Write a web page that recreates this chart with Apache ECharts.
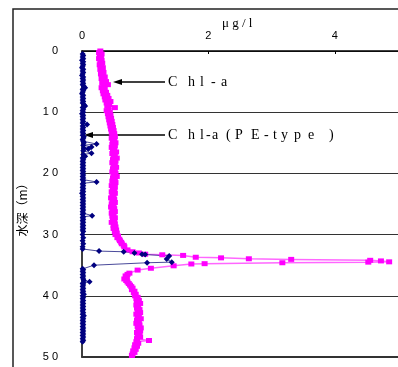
<!DOCTYPE html>
<html><head><meta charset="utf-8">
<script src="https://cdn.jsdelivr.net/npm/echarts@6/dist/echarts.min.js"></script>
<style>html,body{margin:0;padding:0;background:#fff}#c{width:398px;height:367px}</style>
</head><body><div id="c"></div>
<script>
// Chl-a (magenta) profile: depth (m) and value (μg/l)
const chlDepth = [0.00,0.25,0.50,0.75,1.00,1.25,1.50,1.75,2.00,2.25,2.50,2.75,3.00,3.25,3.50,3.75,4.00,4.25,4.50,4.75,5.00,5.25,5.50,5.75,6.00,6.25,6.50,6.75,7.00,7.25,7.50,7.75,8.00,8.25,8.50,8.75,9.00,9.25,9.50,9.75,10.00,10.25,10.50,10.75,11.00,11.25,11.50,11.75,12.00,12.25,12.50,12.75,13.00,13.25,13.50,13.75,14.00,14.25,14.50,14.75,15.00,15.25,15.50,15.75,16.00,16.25,16.50,16.75,17.00,17.25,17.50,17.75,18.00,18.25,18.50,18.75,19.00,19.25,19.50,19.75,20.00,20.25,20.50,20.75,21.00,21.25,21.50,21.75,22.00,22.25,22.50,22.75,23.00,23.25,23.50,23.75,24.00,24.25,24.50,24.75,25.00,25.25,25.50,25.75,26.00,26.25,26.50,26.75,27.00,27.25,27.50,27.75,28.00,28.25,28.50,28.75,29.00,29.25,29.50,29.75,30.00,30.25,30.50,30.75,31.00,31.25,31.50,31.75,32.00,32.5,32.8,33.0,33.2,33.3,33.4,33.7,33.8,33.95,34.05,34.2,34.3,34.45,34.5,34.6,34.75,34.8,35.1,35.5,35.8,36.3,36.5,36.75,37.0,37.25,37.5,37.75,38.0,38.25,38.5,38.75,39.0,39.25,39.5,39.75,40.0,40.25,40.5,40.75,41.0,41.25,41.5,41.75,42.0,42.25,42.5,42.75,43.0,43.25,43.5,43.75,44.0,44.25,44.5,44.75,45.0,45.25,45.5,45.75,46.0,46.25,46.5,46.75,47.0,47.3,47.5,47.75,48.0,48.25,48.5,48.75,49.0,49.25,49.5,49.75];
const chlValue = [0.29,0.27,0.31,0.28,0.30,0.27,0.31,0.29,0.32,0.28,0.30,0.33,0.29,0.31,0.34,0.30,0.33,0.36,0.31,0.34,0.38,0.32,0.41,0.34,0.31,0.36,0.33,0.38,0.34,0.40,0.36,0.42,0.37,0.45,0.39,0.43,0.40,0.52,0.42,0.39,0.44,0.41,0.45,0.42,0.46,0.43,0.47,0.44,0.48,0.45,0.49,0.46,0.50,0.47,0.51,0.48,0.52,0.47,0.51,0.49,0.53,0.48,0.52,0.47,0.51,0.49,0.54,0.48,0.52,0.50,0.55,0.49,0.53,0.48,0.52,0.50,0.54,0.49,0.52,0.48,0.53,0.50,0.55,0.49,0.52,0.48,0.53,0.50,0.47,0.52,0.49,0.51,0.47,0.52,0.48,0.50,0.46,0.51,0.48,0.52,0.47,0.50,0.46,0.51,0.48,0.52,0.47,0.50,0.48,0.52,0.49,0.51,0.47,0.52,0.50,0.53,0.50,0.54,0.52,0.55,0.53,0.57,0.56,0.59,0.60,0.62,0.63,0.66,0.67,0.72,0.80,0.90,1.00,1.27,1.60,1.80,2.20,2.64,3.31,4.56,4.73,4.86,4.53,3.17,1.94,1.73,1.45,1.09,0.88,0.75,0.72,0.69,0.71,0.67,0.70,0.72,0.74,0.76,0.78,0.80,0.79,0.83,0.82,0.85,0.84,0.88,0.86,0.90,0.87,0.92,0.86,0.89,0.87,0.91,0.88,0.92,0.86,0.90,0.88,0.93,0.87,0.90,0.86,0.91,0.88,0.93,0.89,0.92,0.87,0.91,0.88,0.92,0.87,1.06,0.86,0.89,0.84,0.87,0.83,0.85,0.81,0.83,0.80,0.79];

// Chl-a (PE-type) (navy) profile
const peDepth = [0.5,0.75,1.0,1.25,1.5,1.75,2.0,2.25,2.5,2.75,3.0,3.25,3.5,3.75,4.0,4.25,4.5,4.75,5.0,5.25,5.5,5.75,6.0,6.25,6.5,6.75,7.0,7.25,7.5,7.75,8.0,8.25,8.5,8.75,9.0,9.25,9.5,9.75,10.0,10.25,10.5,10.75,11.0,11.25,11.5,11.75,12.0,12.25,12.5,12.75,13.0,13.25,13.5,13.75,14.0,14.25,14.5,14.75,15.0,15.2,15.4,15.7,15.9,16.0,16.3,16.7,16.9,17.2,17.5,17.75,18.0,18.25,18.5,18.75,19.0,19.25,19.5,19.75,20.0,20.25,20.5,20.75,21.0,21.2,21.4,21.6,21.75,22.0,22.25,22.5,22.75,23.0,23.25,23.5,23.75,24.0,24.25,24.5,24.75,25.0,25.25,25.5,25.75,26.0,26.25,26.5,26.7,26.9,27.1,27.25,27.5,27.75,28.0,28.25,28.5,28.75,29.0,29.25,29.5,30.0,30.5,31.0,31.5,32.0,32.35,32.7,32.8,33.0,33.2,33.25,33.5,34.0,34.5,34.6,35.0,35.6,35.75,36.0,36.25,36.5,36.75,37.0,37.25,37.5,37.7,37.9,38.0,38.25,38.5,38.75,39.0,39.25,39.5,39.75,40.0,40.25,40.5,40.75,41.0,41.25,41.5,41.75,42.0,42.25,42.5,42.75,43.0,43.25,43.5,43.75,44.0,44.25,44.5,44.75,45.0,45.25,45.5,45.75,46.0,46.25,46.5,46.75,47.0,47.25,47.5];
const peValue = [0.01,0.02,0.01,0.02,0.00,0.02,0.01,0.02,0.01,0.00,0.02,0.01,0.02,0.01,0.00,0.02,0.01,0.02,0.01,0.02,0.01,0.03,0.05,0.01,0.02,0.01,0.00,0.02,0.01,0.02,0.01,0.02,0.01,0.03,0.05,0.01,0.02,0.01,0.02,0.00,0.02,0.01,0.02,0.01,0.02,0.01,0.08,0.01,0.02,0.01,0.02,0.01,0.02,0.01,0.03,0.02,0.01,0.02,0.03,0.23,0.02,0.15,0.03,0.10,0.02,0.15,0.02,0.05,0.01,0.02,0.01,0.02,0.01,0.02,0.01,0.02,0.01,0.02,0.01,0.02,0.01,0.02,0.01,0.02,0.23,0.02,0.01,0.02,0.01,0.02,0.01,0.02,0.00,0.02,0.01,0.02,0.01,0.02,0.01,0.02,0.01,0.02,0.01,0.02,0.01,0.02,0.01,0.16,0.02,0.01,0.02,0.01,0.02,0.01,0.02,0.01,0.02,0.01,0.02,0.01,0.02,0.01,0.02,0.01,0.01,0.27,0.66,0.83,0.95,1.00,1.38,1.34,1.42,1.03,0.19,0.01,0.02,0.01,0.02,0.01,0.02,0.01,0.02,0.03,0.12,0.02,0.01,0.02,0.01,0.02,0.01,0.02,0.01,0.03,0.01,0.02,0.01,0.02,0.01,0.02,0.01,0.02,0.01,0.02,0.01,0.02,0.01,0.03,0.01,0.02,0.01,0.02,0.01,0.02,0.01,0.02,0.01,0.02,0.01,0.02,0.01,0.02,0.01,0.02,0.01];

const xTicks = [0, 2, 4];
const depthTicks = [0, 10, 20, 30, 40, 50];

const chart = echarts.init(document.getElementById('c'), null, {renderer: 'canvas'});
const chlData = chlDepth.map((d, i) => [chlValue[i], d]);
const peData = peDepth.map((d, i) => [peValue[i], d]);
const spaced = v => String(v).split('').join(' ');

// annotation text, one glyph per element to mimic the wide character spacing
const serif = '14px "Liberation Serif", serif';
function glyphs(chars, xs, y) {
  return chars.map((ch, i) => ({type: 'text', x: xs[i], y: y, silent: true,
    style: {text: ch, font: serif, fill: '#000', verticalAlign: 'middle'}}));
}
const lab1 = glyphs(['C','h','l','-','a'], [168,188,200,211,221], 82);
const lab2 = glyphs(['C','h','l','-','a','(','P','E','-','t','y','p','e',')'],
                    [168,188,200,206,212,226,235,251,264,273,281,294,308,329], 135);

chart.setOption({
  animation: false,
  grid: {left: 82, top: 51, width: 320, height: 306, containLabel: false},
  xAxis: [{
    type: 'value', position: 'top', min: 0, max: 5, interval: 2,
    axisLine: {show: true, lineStyle: {color: '#000', width: 1.5}},
    axisTick: {show: true, inside: true, length: 3, lineStyle: {color: '#000'}},
    axisLabel: {color: '#000', fontFamily: 'Liberation Sans, Arial', fontSize: 11, margin: 10, showMaxLabel: false,
      formatter: v => xTicks.indexOf(v) >= 0 ? String(v) : ''},
    splitLine: {show: false}
  }, {
    type: 'value', position: 'bottom', min: 0, max: 5,
    axisLine: {show: true, onZero: false, lineStyle: {color: '#333', width: 2}},
    axisTick: {show: false}, axisLabel: {show: false}, splitLine: {show: false}
  }],
  yAxis: {
    type: 'value', inverse: true, min: 0, max: 50, interval: 10,
    axisLine: {show: true, lineStyle: {color: '#000', width: 1.5}},
    axisTick: {show: false},
    axisLabel: {color: '#000', fontFamily: 'Liberation Sans, Arial', fontSize: 11, margin: 24,
      formatter: v => depthTicks.indexOf(v) >= 0 ? spaced(v) : ''},
    splitLine: {show: true, lineStyle: {color: '#333', width: 1}}
  },
  series: [{
    name: 'Chl-a', type: 'line', xAxisIndex: 0, data: chlData,
    symbol: 'rect', symbolSize: [6, 5], showAllSymbol: true,
    itemStyle: {color: '#ff00ff'},
    lineStyle: {color: '#ff00ff', width: 1.5, opacity: 0.6}
  }, {
    name: 'Chl-a(PE-type)', type: 'line', xAxisIndex: 0, data: peData,
    symbol: 'diamond', symbolSize: 6, showAllSymbol: true,
    itemStyle: {color: '#000080'},
    lineStyle: {color: '#2a2a88', width: 1, opacity: 0.85}
  }],
  graphic: [
    {type: 'rect', shape: {x: 13, y: 9, width: 420, height: 420}, style: {fill: 'none', stroke: '#222', lineWidth: 1.5}, silent: true},
    {type: 'text', x: 222, y: 17, style: {text: 'μ g / l', font: '13px "Liberation Serif", serif', fill: '#000'}},
    {type: 'text', x: 22, y: 207, rotation: Math.PI / 2, style: {text: '水深（m）', font: '12px "Noto Sans CJK JP", sans-serif', fill: '#000', align: 'center', verticalAlign: 'middle'}},
    {type: 'line', shape: {x1: 165, y1: 82, x2: 118, y2: 82}, style: {stroke: '#000', lineWidth: 1.5}},
    {type: 'polygon', shape: {points: [[113, 82], [122, 79], [122, 85]]}, style: {fill: '#000'}},
    {type: 'line', shape: {x1: 165, y1: 135, x2: 89, y2: 135}, style: {stroke: '#000', lineWidth: 1.5}},
    {type: 'polygon', shape: {points: [[84, 135], [93, 132], [93, 138]]}, style: {fill: '#000'}}
  ].concat(lab1, lab2)
});
</script>
</body></html>
